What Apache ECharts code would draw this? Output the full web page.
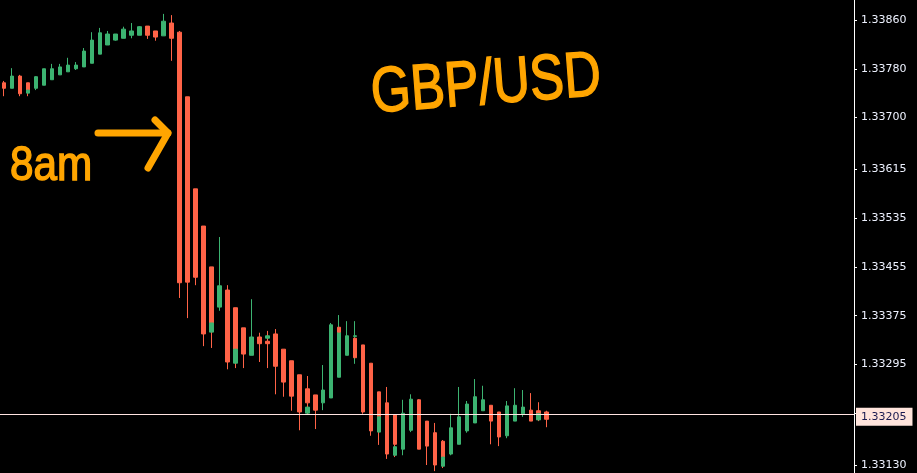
<!DOCTYPE html>
<html><head><meta charset="utf-8">
<script src="https://cdn.jsdelivr.net/npm/echarts@6/dist/echarts.min.js"></script>
<style>html,body{margin:0;padding:0;background:#000}#c{width:917px;height:473px}</style>
</head><body><div id="c"></div>
<script>
// ---- data ----
const slotCount = 107; // bar slots visible on the chart (incl. empty right margin)
const openV  = [1.33757,1.33748,1.33768,1.33757,1.33748,1.33753,1.33762,1.33770,1.33775,1.33780,
                1.33783,1.33789,1.33804,1.33819,1.33827,1.33830,1.33835,1.33835,1.33850,1.33842,
                1.33834,1.33855,1.33840,1.33734,1.33583,1.33522,1.33455,1.33389,1.33417,1.33388,
                1.33355,1.33310,1.33340,1.33333,1.33345,1.33320,1.33301,1.33278,1.33255,1.33245,
                1.33232,1.33240,1.33274,1.33310,1.33341,1.33327,1.33297,1.33250,1.33232,1.33212,
                1.33156,1.33187,1.33237,1.33202,1.33183,1.33169,1.33148,1.33164,1.33186,1.33199,
                1.33219,1.33228,1.33217,1.33178,1.33202,1.33214,1.33220,1.33219,1.33217];
const closeV = [1.33748,1.33768,1.33739,1.33745,1.33767,1.33780,1.33780,1.33783,1.33786,1.33786,
                1.33809,1.33827,1.33839,1.33837,1.33837,1.33845,1.33842,1.33849,1.33835,1.33832,
                1.33858,1.33830,1.33429,1.33430,1.33438,1.33345,1.33363,1.33424,1.33299,1.33320,
                1.33312,1.33340,1.33329,1.33329,1.33292,1.33266,1.33243,1.33217,1.33232,1.33220,
                1.33253,1.33360,1.33348,1.33342,1.33342,1.33217,1.33186,1.33209,1.33148,1.33164,
                1.33215,1.33238,1.33156,1.33161,1.33130,1.33143,1.33191,1.33209,1.33230,1.33242,
                1.33237,1.33202,1.33176,1.33227,1.33228,1.33225,1.33202,1.33214,1.33205];
const lowV   = [1.33735,1.33748,1.33735,1.33735,1.33745,1.33753,1.33762,1.33770,1.33775,1.33778,
                1.33783,1.33789,1.33804,1.33819,1.33826,1.33830,1.33830,1.33835,1.33829,1.33826,
                1.33834,1.33793,1.33404,1.33371,1.33425,1.33325,1.33322,1.33383,1.33287,1.33289,
                1.33289,1.33310,1.33299,1.33289,1.33246,1.33242,1.33219,1.33187,1.33212,1.33189,
                1.33220,1.33240,1.33274,1.33310,1.33296,1.33214,1.33178,1.33163,1.33140,1.33143,
                1.33146,1.33184,1.33156,1.33130,1.33120,1.33125,1.33146,1.33164,1.33183,1.33199,
                1.33219,1.33164,1.33161,1.33174,1.33202,1.33209,1.33202,1.33202,1.33192];
const highV  = [1.33760,1.33781,1.33770,1.33757,1.33768,1.33780,1.33788,1.33788,1.33798,1.33791,
                1.33814,1.33840,1.33847,1.33842,1.33837,1.33849,1.33855,1.33850,1.33850,1.33842,
                1.33870,1.33868,1.33842,1.33734,1.33583,1.33522,1.33455,1.33504,1.33425,1.33388,
                1.33355,1.33402,1.33347,1.33350,1.33353,1.33320,1.33301,1.33278,1.33276,1.33245,
                1.33294,1.33363,1.33376,1.33366,1.33366,1.33327,1.33297,1.33250,1.33258,1.33212,
                1.33237,1.33246,1.33238,1.33202,1.33199,1.33171,1.33214,1.33258,1.33235,1.33271,
                1.33260,1.33228,1.33217,1.33235,1.33256,1.33253,1.33248,1.33233,1.33219];
// small overlapping body fragments drawn on top of some bars
const overlayIndex = [3, 26, 29, 33, 38, 42, 44, 47, 49, 55, 67];
const overlayOpen  = [1.33740,1.33348,1.33297,1.33338,1.33215,1.33356,1.33338,1.33184,1.33146,1.33128,1.33204];
const overlayClose = [1.33745,1.33363,1.33320,1.33342,1.33225,1.33348,1.33306,1.33209,1.33160,1.33143,1.33214];
const tickLabels = ['1.33860','1.33780','1.33700','1.33615','1.33535','1.33455','1.33375','1.33295','1.33215','1.33130'];
const priceLine = 1.33214;
const priceLabel = '1.33205';

// ---- build ----
const GREEN = '#3CB371', RED = '#FF6347', ORANGE = '#FFA500';
const categories = [];
for (let i = 0; i < slotCount; i++) categories.push(String(i));
const mainData = openV.map((o, i) => [o, closeV[i], lowV[i], highV[i]]);
const overlayData = categories.map(() => '-');
overlayIndex.forEach((idx, k) => {
  const o = overlayOpen[k], c = overlayClose[k];
  overlayData[idx] = [o, c, Math.min(o, c), Math.max(o, c)];
});
const tickValues = tickLabels.map(Number);

const candleStyle = {color: GREEN, color0: RED, borderColor: GREEN, borderColor0: RED, borderWidth: 1};

const chart = echarts.init(document.getElementById('c'), null, {renderer: 'canvas'});
chart.setOption({
  backgroundColor: '#000000',
  animation: false,
  grid: {left: 0, right: 63, top: 0, bottom: 0},
  xAxis: {type: 'category', data: categories, show: false, boundaryGap: true},
  yAxis: {
    type: 'value', position: 'right', min: 1.331169, max: 1.338928, scale: true,
    axisLine: {show: true, lineStyle: {color: '#ffffff', width: 1}},
    axisTick: {show: true, length: 3, lineStyle: {color: '#ffffff'}, customValues: tickValues},
    axisLabel: {customValues: tickValues, formatter: v => v.toFixed(5), color: '#eef2ff',
                fontFamily: 'DejaVu Sans', fontSize: 11, margin: 7},
    splitLine: {show: false}
  },
  series: [
    {type: 'candlestick', data: mainData, barWidth: 4, itemStyle: candleStyle, z: 2},
    {type: 'candlestick', data: overlayData, barWidth: 4, itemStyle: candleStyle, z: 3},
    {
      type: 'line', data: categories.map(() => null), symbol: 'none', z: 4, silent: true,
      markLine: {
        silent: true, symbol: ['none', 'none'], animation: false, precision: 5,
        lineStyle: {color: '#ffe4e1', width: 1, type: 'solid', opacity: 1},
        label: {show: true, position: 'end', distance: 2, formatter: priceLabel, offset: [0, 3],
                backgroundColor: '#ffe4dc', color: '#1a1a50', fontFamily: 'DejaVu Sans',
                fontSize: 11, padding: [4, 6, 3, 5]},
        data: [{yAxis: priceLine}]
      }
    }
  ],
  graphic: [
    {type: 'text', x: 486, y: 86, rotation: 0.077, scaleX: 0.8,
     style: {text: 'GBP/USD', font: '64px "Liberation Sans"', fill: ORANGE, stroke: ORANGE, lineWidth: 1.5,
             align: 'center', verticalAlign: 'middle', textAlign: 'center', textVerticalAlign: 'middle'}},
    {type: 'text', x: 51, y: 167, scaleX: 0.88,
     style: {text: '8am', font: '48px "Liberation Sans"', fill: ORANGE, stroke: ORANGE, lineWidth: 1.5,
             align: 'center', verticalAlign: 'middle', textAlign: 'center', textVerticalAlign: 'middle'}},
    {type: 'polyline', shape: {points: [[98, 133], [168, 133]]},
     style: {stroke: ORANGE, lineWidth: 7, lineCap: 'round', fill: null}},
    {type: 'polyline', shape: {points: [[155, 120], [168, 133], [148, 168]]},
     style: {stroke: ORANGE, lineWidth: 7, lineCap: 'round', lineJoin: 'round', fill: null}}
  ]
});
</script>
</body></html>
